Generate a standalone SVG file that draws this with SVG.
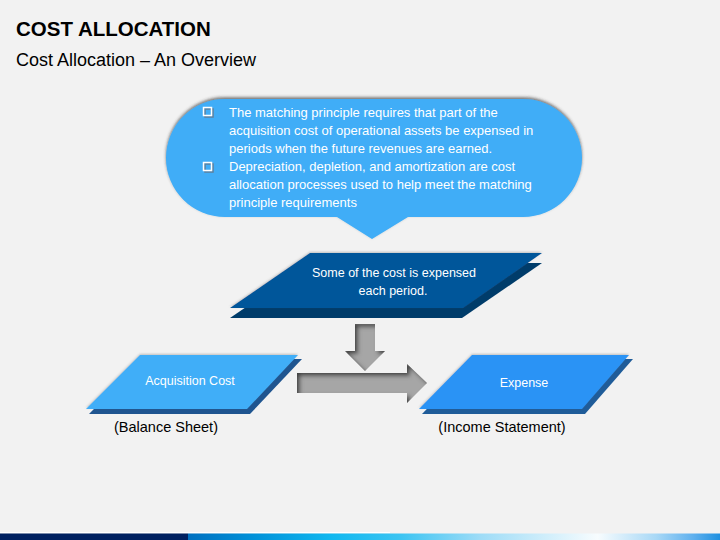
<svg xmlns="http://www.w3.org/2000/svg" width="720" height="540" viewBox="0 0 720 540">
<defs>
<style>
.t{font-family:"Liberation Sans",Arial,sans-serif;fill:#fff}
.lbl{font-family:"Liberation Sans",Arial,sans-serif;fill:#000;font-size:14.5px}
.bul{fill:none;stroke:#fff;stroke-width:1.5}
.bsh{fill:none;stroke:#5f7f9a;stroke-width:1.5}
</style>
<linearGradient id="bar" x1="188" y1="0" x2="720" y2="0" gradientUnits="userSpaceOnUse">
<stop offset="0" stop-color="#0070C0"/>
<stop offset="0.12" stop-color="#0090D8"/>
<stop offset="0.27" stop-color="#10B8F0"/>
<stop offset="0.4" stop-color="#3CC4F2"/>
<stop offset="0.55" stop-color="#9EDCF7"/>
<stop offset="0.77" stop-color="#F7FCFE"/>
<stop offset="0.88" stop-color="#A8D8F6"/>
<stop offset="0.95" stop-color="#5FB0EE"/>
<stop offset="1" stop-color="#1E90E0"/>
</linearGradient>
<filter id="sh" x="-10%" y="-20%" width="120%" height="140%">
<feDropShadow dx="0" dy="-1.8" stdDeviation="1.8" flood-color="#303030" flood-opacity="0.65"/>
</filter>
<filter id="sh2" x="-10%" y="-20%" width="120%" height="140%">
<feDropShadow dx="0" dy="-1" stdDeviation="1.2" flood-color="#606060" flood-opacity="0.35"/>
</filter>
<filter id="bevel" x="-10%" y="-10%" width="120%" height="120%">
<feComponentTransfer in="SourceAlpha" result="inv"><feFuncA type="table" tableValues="1 0"/></feComponentTransfer>
<feGaussianBlur in="inv" stdDeviation="2" result="blur"/>
<feOffset in="blur" dx="2.5" dy="2.5" result="off"/>
<feFlood flood-color="#404040" flood-opacity="1" result="col"/>
<feComposite in="col" in2="off" operator="in" result="shadow"/>
<feComposite in="shadow" in2="SourceAlpha" operator="in" result="inner"/>
<feMerge><feMergeNode in="SourceGraphic"/><feMergeNode in="inner"/></feMerge>
</filter>
</defs>
<rect x="0" y="0" width="720" height="540" fill="#F2F2F2"/>
<g id="title">
<text x="16" y="36" font-family="Liberation Sans,Arial,sans-serif" font-weight="bold" font-size="20.5" fill="#000">COST ALLOCATION</text>
<text x="16" y="66" font-family="Liberation Sans,Arial,sans-serif" font-size="18" fill="#000">Cost Allocation – An Overview</text>
</g>
<g id="callout">
<path d="M225 99 H523 A59 59 0 0 1 523 217 H408 L372 239 L337 217 H225 A59 59 0 0 1 225 99 Z" fill="#3FADF7" filter="url(#sh)"/>
<rect class="bsh" x="205" y="109" width="8" height="8"/>
<rect class="bul" x="203.5" y="107.5" width="8" height="8"/>
<rect class="bsh" x="205" y="164" width="8" height="8"/>
<rect class="bul" x="203.5" y="162.5" width="8" height="8"/>
<g class="t" font-size="13">
<text x="229" y="117">The matching principle requires that part of the</text>
<text x="229" y="135">acquisition cost of operational assets be expensed in</text>
<text x="229" y="153">periods when the future revenues are earned.</text>
<text x="229" y="171">Depreciation, depletion, and amortization are cost</text>
<text x="229" y="189">allocation processes used to help meet the matching</text>
<text x="229" y="207">principle requirements</text>
</g>
</g>
<g id="node-period">
<polygon points="310,263 542,263 462,318 230,318" fill="#003C6A"/>
<polygon points="310,253 542,253 463,308 230,308" fill="#00569A" filter="url(#sh2)"/>
<text class="t" font-size="12.5" x="394" y="277" text-anchor="middle">Some of the cost is expensed</text>
<text class="t" font-size="12.5" x="393" y="295" text-anchor="middle">each period.</text>
</g>
<g id="node-acquisition">
<polygon points="143,359 302,359 250,414 89,414" fill="#1F5590"/>
<polygon points="140,355 298,355 247,409 86,409" fill="#41AEF8" filter="url(#sh2)"/>
<text class="t" font-size="12.5" x="190" y="385" text-anchor="middle">Acquisition Cost</text>
</g>
<g id="node-expense">
<polygon points="475,359 633,359 585,414 422,414" fill="#1F5C99"/>
<polygon points="472,355 629,355 582,409 419,409" fill="#2B93F5" filter="url(#sh2)"/>
<text class="t" font-size="12.5" x="524" y="387" text-anchor="middle">Expense</text>
</g>
<g id="labels">
<text class="lbl" x="166" y="432" text-anchor="middle">(Balance Sheet)</text>
<text class="lbl" x="502" y="432" text-anchor="middle">(Income Statement)</text>
</g>
<g id="connectors">
<path d="M355 324 H375 V351 H385 L365 371 L345 351 H355 Z" fill="#A6A6A6" filter="url(#bevel)"/>
<path d="M297 373 H407 V364 L427 383 L407 403 V393 H297 Z" fill="#A6A6A6" filter="url(#bevel)"/>
</g>
<g id="footer">
<rect x="0" y="532" width="390" height="1.2" fill="#FFFFFF"/>
<rect x="0" y="533.5" width="188" height="6.5" fill="#002060"/>
<rect x="188" y="533.5" width="532" height="6.5" fill="url(#bar)"/>
</g>
</svg>
